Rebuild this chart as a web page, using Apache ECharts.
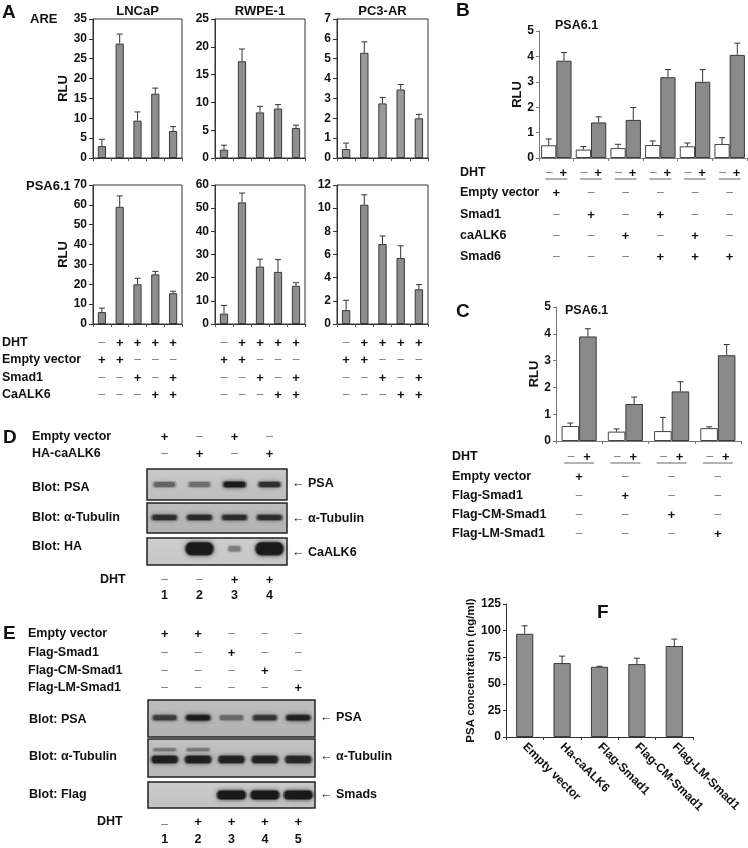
<!DOCTYPE html>
<html><head><meta charset="utf-8">
<script src="https://cdn.jsdelivr.net/npm/echarts@6/dist/echarts.min.js"></script>
<style>html,body{margin:0;padding:0;background:#fff}#c{width:748px;height:848px}</style>
</head><body><div id="c"></div>
<script>
// ================= DATA =================
// Panel A
const aCells = ['LNCaP', 'RWPE-1', 'PC3-AR'];
const aConditions = ['1', '2', '3', '4', '5'];
const areLNCaP = [3.0, 28.8, 9.4, 16.2, 6.8];
const areLNCaPErr = [1.7, 2.4, 2.2, 1.4, 1.1];
const areRWPE = [1.5, 17.4, 8.2, 8.9, 5.4];
const areRWPEErr = [0.8, 2.2, 1.1, 0.7, 0.5];
const arePC3 = [0.45, 5.3, 2.75, 3.45, 2.0];
const arePC3Err = [0.3, 0.55, 0.3, 0.25, 0.2];
const psaLNCaP = [6, 59, 20, 25, 15.5];
const psaLNCaPErr = [2, 5.5, 3, 1.5, 1];
const psaRWPE = [4.5, 52.5, 24.8, 22.5, 16.5];
const psaRWPEErr = [3.5, 4, 3.2, 5.3, 1.3];
const psaPC3 = [1.2, 10.3, 6.9, 5.7, 3.0];
const psaPC3Err = [0.85, 0.85, 0.7, 1.05, 0.4];
const aAxisMax = [35, 25, 7, 70, 60, 12];
const aAxisInterval = [5, 5, 1, 10, 10, 2];
const aRowLabels = ['DHT', 'Empty vector', 'Smad1', 'CaALK6'];
const aSigns = [
  ['-', '+', '+', '+', '+'],
  ['+', '+', '-', '-', '-'],
  ['-', '-', '+', '-', '+'],
  ['-', '-', '-', '+', '+']
];
// Panel B
const bGroups = ['1', '2', '3', '4', '5', '6'];
const bMinusDHT = [0.5, 0.33, 0.39, 0.51, 0.46, 0.55];
const bMinusErr = [0.25, 0.12, 0.15, 0.16, 0.13, 0.25];
const bPlusDHT = [3.83, 1.40, 1.50, 3.18, 3.0, 4.06];
const bPlusErr = [0.32, 0.22, 0.49, 0.30, 0.48, 0.46];
const bRowLabels = ['Empty vector', 'Smad1', 'caALK6', 'Smad6'];
const bSigns = [
  ['+', '-', '-', '-', '-', '-'],
  ['-', '+', '-', '+', '-', '-'],
  ['-', '-', '+', '-', '+', '-'],
  ['-', '-', '-', '+', '+', '+']
];
// Panel C
const cGroups = ['1', '2', '3', '4'];
const cMinusDHT = [0.56, 0.35, 0.37, 0.48];
const cMinusErr = [0.11, 0.1, 0.51, 0.05];
const cPlusDHT = [3.9, 1.38, 1.85, 3.2];
const cPlusErr = [0.29, 0.26, 0.36, 0.4];
const cRowLabels = ['Empty vector', 'Flag-Smad1', 'Flag-CM-Smad1', 'Flag-LM-Smad1'];
const cSigns = [
  ['+', '-', '-', '-'],
  ['-', '+', '-', '-'],
  ['-', '-', '+', '-'],
  ['-', '-', '-', '+']
];
// Panel D (western blot band intensities, per lane)
const dLanes = ['1', '2', '3', '4'];
const dPSABands = [0.4, 0.35, 0.95, 0.7];
const dTubulinBands = [0.7, 0.75, 0.72, 0.7];
const dHABands = [0, 1, 0.3, 1];
const dRowLabels = ['Empty vector', 'HA-caALK6'];
const dSigns = [['+', '-', '+', '-'], ['-', '+', '-', '+']];
const dDHT = ['-', '-', '+', '+'];
// Panel E
const eLanes = ['1', '2', '3', '4', '5'];
const ePSABands = [0.6, 0.9, 0.35, 0.65, 0.85];
const eTubulinBands = [0.85, 0.85, 0.8, 0.8, 0.75];
const eTubulinUpper = [0.3, 0.3, 0, 0, 0];
const eFlagBands = [0, 0, 1, 1, 1];
const eRowLabels = ['Empty vector', 'Flag-Smad1', 'Flag-CM-Smad1', 'Flag-LM-Smad1'];
const eSigns = [
  ['+', '+', '-', '-', '-'],
  ['-', '-', '+', '-', '-'],
  ['-', '-', '-', '+', '-'],
  ['-', '-', '-', '-', '+']
];
const eDHT = ['_', '+', '+', '+', '+'];
// Panel F
const fCategories = ['Empty vector', 'Ha-caALK6', 'Flag-Smad1', 'Flag-CM-Smad1', 'Flag-LM-Smad1'];
const fValues = [97, 69.5, 66, 68.5, 85.5];
const fErr = [7.5, 6.5, 0.5, 5.5, 6.5];
const fAxisMax = 125, fAxisInterval = 25;

// ================= BUILD =================
const FONT = '"Liberation Sans", Arial, Helvetica, sans-serif';
const chart = echarts.init(document.getElementById('c'), null, {renderer: 'canvas'});
const grids = [], xAxes = [], yAxes = [], series = [], graphics = [];

function txt(x, y, text, o) {
  o = o || {};
  graphics.push({type: 'text', x: x, y: y, z: 20, silent: true, style: {
    text: text, fill: o.fill || '#111', fontFamily: FONT, fontWeight: o.weight || 'bold',
    fontSize: o.size || 12, align: o.align || 'left', verticalAlign: 'middle'}});
}
function sign(x, y, s) {
  if (s === '+') txt(x, y, '+', {align: 'center', size: 13});
  else if (s === '_') txt(x, y + 3, '–', {align: 'center', size: 12, fill: '#777', weight: 'normal'});
  else txt(x, y, '–', {align: 'center', size: 12, fill: '#777', weight: 'normal'});
}
function hline(x1, x2, y, c) {
  graphics.push({type: 'line', z: 20, silent: true, shape: {x1: x1, y1: y, x2: x2, y2: y}, style: {stroke: c || '#666', lineWidth: 1}});
}

const axisText = {color: '#111', fontFamily: FONT, fontWeight: 'bold', fontSize: 12};

function addGrid(g) { grids.push(g); return grids.length - 1; }

function errSeries(gi, vals, errs, offsetFrac) {
  return {
    type: 'custom', xAxisIndex: gi, yAxisIndex: gi, z: 5, silent: true,
    data: vals.map(function (v, i) { return [i, v, errs[i]]; }),
    renderItem: function (params, api) {
      const i = api.value(0), v = api.value(1), e = api.value(2);
      const b = api.coord([i, v]), t = api.coord([i, v + e]);
      const cw = api.size([1, 0])[0];
      const x = b[0] + cw * offsetFrac;
      return {type: 'group', children: [
        {type: 'line', shape: {x1: x, y1: b[1], x2: x, y2: t[1]}, style: {stroke: '#333', lineWidth: 1}},
        {type: 'line', shape: {x1: x - 3, y1: t[1], x2: x + 3, y2: t[1]}, style: {stroke: '#333', lineWidth: 1}}
      ]};
    }
  };
}

// ---------- Panel A ----------
const aVals = [areLNCaP, areRWPE, arePC3, psaLNCaP, psaRWPE, psaPC3];
const aErrs = [areLNCaPErr, areRWPEErr, arePC3Err, psaLNCaPErr, psaRWPEErr, psaPC3Err];
const aLeft = [93, 215, 337], aWidth = [89, 90, 91], aTop = [19, 185], aH = 139;
for (let k = 0; k < 6; k++) {
  const col = k % 3, row = Math.floor(k / 3);
  const gi = addGrid({left: aLeft[col], top: aTop[row], width: aWidth[col], height: aH,
    show: true, borderColor: '#333', borderWidth: 1, backgroundColor: 'transparent'});
  xAxes.push({type: 'category', gridIndex: gi, data: aConditions,
    axisLine: {lineStyle: {color: '#333'}}, axisTick: {show: true, length: 3, lineStyle: {color: '#555'}},
    axisLabel: {show: false}});
  yAxes.push({type: 'value', gridIndex: gi, min: 0, max: aAxisMax[k], interval: aAxisInterval[k],
    splitLine: {show: false}, axisLine: {show: true, lineStyle: {color: '#333'}},
    axisTick: {show: true, length: 4, lineStyle: {color: '#333'}},
    axisLabel: Object.assign({margin: 6}, axisText),
    name: col === 0 ? 'RLU' : '', nameLocation: 'middle', nameGap: 22,
    nameTextStyle: {color: '#111', fontFamily: FONT, fontWeight: 'bold', fontSize: 13}});
  series.push({type: 'bar', xAxisIndex: gi, yAxisIndex: gi, data: aVals[k], barWidth: '46%',
    itemStyle: {color: row === 0 && col === 2 ? '#9a9a9a' : '#8e8e8e', borderColor: '#3a3a3a', borderWidth: 1}, silent: true});
  series.push(errSeries(gi, aVals[k], aErrs[k], 0));
  if (row === 0) txt(aLeft[col] + aWidth[col] / 2, 11, aCells[col], {align: 'center', size: 13});
}
txt(2, 13, 'A', {size: 19});
txt(30, 19, 'ARE', {size: 13});
txt(26, 186, 'PSA6.1', {size: 13});
const aRowY = [343, 360, 378, 395];
aRowLabels.forEach(function (l, r) { txt(2, aRowY[r], l, {size: 12.5}); });
for (let col = 0; col < 3; col++) {
  for (let r = 0; r < 4; r++) {
    for (let i = 0; i < 5; i++) {
      sign(aLeft[col] + aWidth[col] * (i + 0.5) / 5, aRowY[r], aSigns[r][i]);
    }
  }
}

// ---------- Panel B & C (grouped) ----------
function grouped(cfg) {
  const gi = addGrid({left: cfg.left, top: cfg.top, width: cfg.width, height: cfg.height});
  xAxes.push({type: 'category', gridIndex: gi, data: cfg.groups,
    axisLine: {lineStyle: {color: '#777'}}, axisTick: {show: true, length: 3, lineStyle: {color: '#777'}},
    axisLabel: {show: false}});
  yAxes.push({type: 'value', gridIndex: gi, min: 0, max: 5, interval: 1, splitLine: {show: false},
    axisLine: {show: true, lineStyle: {color: '#777'}}, axisTick: {show: true, length: 3, lineStyle: {color: '#777'}},
    axisLabel: Object.assign({margin: 5}, axisText),
    name: 'RLU', nameLocation: 'middle', nameGap: cfg.nameGap,
    nameTextStyle: {color: '#111', fontFamily: FONT, fontWeight: 'bold', fontSize: 13}});
  const bw = cfg.barFrac;
  series.push({type: 'bar', xAxisIndex: gi, yAxisIndex: gi, data: cfg.minus, barWidth: (bw * 100) + '%', barGap: '0%',
    itemStyle: {color: '#ffffff', borderColor: '#444', borderWidth: 1}, silent: true});
  series.push({type: 'bar', xAxisIndex: gi, yAxisIndex: gi, data: cfg.plus, barWidth: (bw * 100) + '%', barGap: '0%',
    itemStyle: {color: '#8a8a8a', borderColor: '#3a3a3a', borderWidth: 1}, silent: true});
  series.push(errSeries(gi, cfg.minus, cfg.minusErr, -bw / 2));
  series.push(errSeries(gi, cfg.plus, cfg.plusErr, bw / 2));
  const n = cfg.groups.length, cw = cfg.width / n;
  txt(cfg.labelX, cfg.dhtY, 'DHT', {size: 12.5});
  cfg.rowLabels.forEach(function (l, r) { txt(cfg.labelX, cfg.rowY[r], l, {size: 12.5}); });
  for (let i = 0; i < n; i++) {
    const cx = cfg.left + cw * (i + 0.5);
    sign(cx - cfg.pairOff, cfg.dhtY, '-');
    sign(cx + cfg.pairOff, cfg.dhtY, '+');
    hline(cx - cfg.ulHalf, cx + cfg.ulHalf, cfg.dhtY + 6, '#666');
    for (let r = 0; r < cfg.rowLabels.length; r++) sign(cx, cfg.rowY[r], cfg.signs[r][i]);
  }
  txt(cfg.titleX, cfg.titleY, 'PSA6.1', {size: 12.5});
}
grouped({left: 539, top: 31, width: 208, height: 127, groups: bGroups, barFrac: 0.44, nameGap: 14,
  minus: bMinusDHT, minusErr: bMinusErr, plus: bPlusDHT, plusErr: bPlusErr,
  labelX: 460, dhtY: 173, rowLabels: bRowLabels, rowY: [193, 215, 236, 257], signs: bSigns,
  pairOff: 7, ulHalf: 11, titleX: 555, titleY: 26});
txt(456, 11, 'B', {size: 19});
grouped({left: 556, top: 307, width: 185, height: 134, groups: cGroups, barFrac: 0.38, nameGap: 11,
  minus: cMinusDHT, minusErr: cMinusErr, plus: cPlusDHT, plusErr: cPlusErr,
  labelX: 452, dhtY: 457, rowLabels: cRowLabels, rowY: [477, 496, 515, 534], signs: cSigns,
  pairOff: 8, ulHalf: 15, titleX: 565, titleY: 311});
txt(456, 312, 'C', {size: 19});

// ---------- Panel F ----------
(function () {
  const gi = addGrid({left: 506, top: 604, width: 187, height: 133});
  xAxes.push({type: 'category', gridIndex: gi, data: fCategories,
    axisLine: {lineStyle: {color: '#333'}}, axisTick: {show: true, length: 3, lineStyle: {color: '#333'}},
    axisLabel: Object.assign({interval: 0, rotate: -45, margin: 8}, axisText)});
  yAxes.push({type: 'value', gridIndex: gi, min: 0, max: fAxisMax, interval: fAxisInterval, splitLine: {show: false},
    axisLine: {show: true, lineStyle: {color: '#333'}}, axisTick: {show: true, length: 3, lineStyle: {color: '#333'}},
    axisLabel: Object.assign({margin: 5}, axisText),
    name: 'PSA concentration (ng/ml)', nameLocation: 'middle', nameGap: 29,
    nameTextStyle: {color: '#111', fontFamily: FONT, fontWeight: 'bold', fontSize: 11.5}});
  series.push({type: 'bar', xAxisIndex: gi, yAxisIndex: gi, data: fValues, barWidth: '46%',
    itemStyle: {color: '#8e8e8e', borderColor: '#3a3a3a', borderWidth: 1}, silent: true});
  series.push(errSeries(gi, fValues, fErr, 0));
  txt(597, 613, 'F', {size: 19});
})();

// ---------- Blots D & E ----------
function blot(box, lanes, bg, bands) {
  const gi = addGrid({left: box[0], top: box[1], width: box[2], height: box[3], show: true,
    backgroundColor: {type: 'linear', x: 0, y: 0, x2: 0, y2: 1, colorStops: [
      {offset: 0, color: bg[0]}, {offset: 1, color: bg[1]}]},
    borderColor: '#222', borderWidth: 1.5});
  xAxes.push({type: 'category', gridIndex: gi, data: lanes, show: false});
  yAxes.push({type: 'value', gridIndex: gi, min: 0, max: 1, show: false});
  bands.forEach(function (b) {
    series.push({type: 'custom', xAxisIndex: gi, yAxisIndex: gi, silent: true, z: 4,
      data: b.vals.map(function (a, i) { return [i, a]; }),
      renderItem: function (params, api) {
        const a = api.value(1);
        if (a <= 0) return null;
        const c = api.coord([api.value(0), b.y]);
        const sc = b.scale ? (0.22 + 0.78 * a) : 1;
        const w = b.w * sc, h = b.h * sc;
        const col = 'rgba(25,25,25,' + Math.min(1, a) + ')';
        const soft = 'rgba(25,25,25,' + (0.45 * a) + ')';
        return {type: 'group', children: [
          {type: 'rect', shape: {x: c[0] - w / 2 - 2, y: c[1] - h / 2 - 1, width: w + 4, height: h + 2, r: (h + 2) / 2},
            style: {fill: soft, shadowBlur: b.blur + 3, shadowColor: soft}},
          {type: 'rect', shape: {x: c[0] - w / 2, y: c[1] - h / 2, width: w, height: h, r: h / 2.5},
            style: {fill: col, shadowBlur: b.blur, shadowColor: col}}
        ]};
      }});
  });
  return gi;
}
const dBox = [147, 469, 140], eBox = [148, 700, 167];
blot([147, 469, 140, 31], dLanes, ['#c9c9c9', '#bdbdbd'], [{vals: dPSABands, y: 0.5, w: 21, h: 5, blur: 4}]);
blot([147, 503, 140, 30], dLanes, ['#bdbdbd', '#b3b3b3'], [{vals: dTubulinBands, y: 0.52, w: 24, h: 5, blur: 4}]);
blot([147, 538, 140, 27], dLanes, ['#cfcfcf', '#c6c6c6'], [{vals: dHABands, y: 0.6, w: 26, h: 12, blur: 4, scale: true}]);
blot([148, 700, 167, 37], eLanes, ['#bdbdbd', '#b2b2b2'], [{vals: ePSABands, y: 0.52, w: 23, h: 5, blur: 4}]);
blot([148, 739, 167, 38], eLanes, ['#c2c2c2', '#b8b8b8'], [{vals: eTubulinBands, y: 0.46, w: 25, h: 7, blur: 4},
  {vals: eTubulinUpper, y: 0.72, w: 22, h: 3, blur: 3}]);
blot([148, 782, 167, 26], eLanes, ['#cbcbcb', '#c2c2c2'], [{vals: eFlagBands, y: 0.5, w: 27, h: 8, blur: 4}]);

function laneX(box, n, i) { return box[0] + box[2] * (i + 0.5) / n; }
// D text
txt(3, 438, 'D', {size: 19});
txt(32, 437, dRowLabels[0], {size: 12.5});
txt(32, 454, dRowLabels[1], {size: 12.5});
for (let r = 0; r < 2; r++) for (let i = 0; i < 4; i++) sign(laneX(dBox, 4, i), [437, 454][r], dSigns[r][i]);
txt(32, 488, 'Blot: PSA', {size: 12.5});
txt(32, 518, 'Blot: α-Tubulin', {size: 12.5});
txt(32, 547, 'Blot: HA', {size: 12.5});
txt(292, 484, '← PSA', {size: 12.5});
txt(292, 519, '← α-Tubulin', {size: 12.5});
txt(292, 553, '← CaALK6', {size: 12.5});
txt(100, 580, 'DHT', {size: 12.5});
for (let i = 0; i < 4; i++) {
  sign(laneX(dBox, 4, i), 580, dDHT[i]);
  txt(laneX(dBox, 4, i), 596, dLanes[i], {align: 'center', size: 12.5});
}
// E text
txt(3, 634, 'E', {size: 19});
const eRowY = [634, 653, 671, 688];
eRowLabels.forEach(function (l, r) { txt(28, eRowY[r], l, {size: 12.5}); });
for (let r = 0; r < 4; r++) for (let i = 0; i < 5; i++) sign(laneX(eBox, 5, i), eRowY[r], eSigns[r][i]);
txt(29, 720, 'Blot: PSA', {size: 12.5});
txt(29, 757, 'Blot: α-Tubulin', {size: 12.5});
txt(29, 795, 'Blot: Flag', {size: 12.5});
txt(320, 718, '← PSA', {size: 12.5});
txt(320, 757, '← α-Tubulin', {size: 12.5});
txt(320, 795, '← Smads', {size: 12.5});
txt(97, 822, 'DHT', {size: 12.5});
for (let i = 0; i < 5; i++) {
  sign(laneX(eBox, 5, i), 822, eDHT[i]);
  txt(laneX(eBox, 5, i), 840, eLanes[i], {align: 'center', size: 12.5});
}

chart.setOption({
  animation: false,
  backgroundColor: '#ffffff',
  grid: grids, xAxis: xAxes, yAxis: yAxes, series: series, graphic: graphics
});
</script></body></html>
